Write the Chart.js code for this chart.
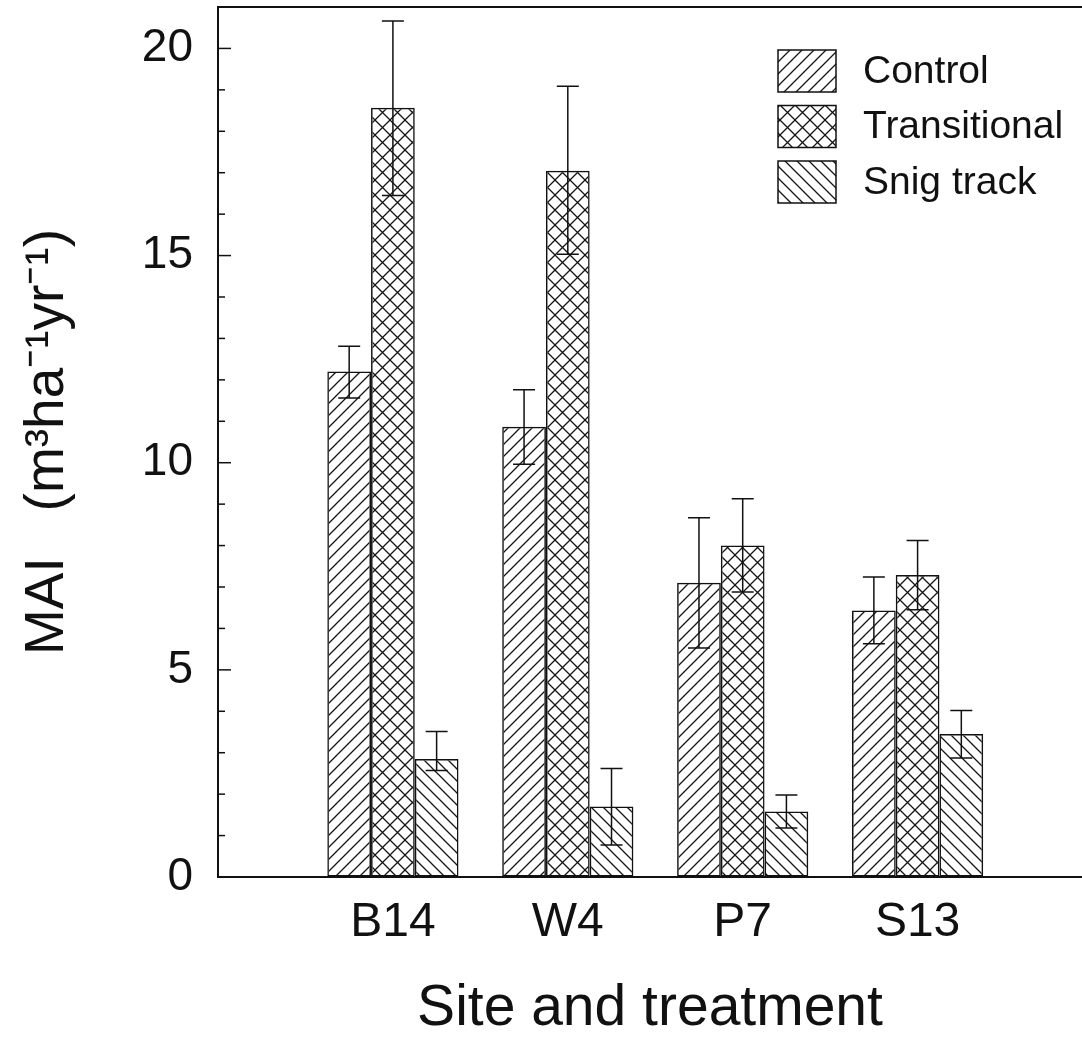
<!DOCTYPE html>
<html lang="en">
<head>
  <meta charset="UTF-8" />
  <title>MAI by site and treatment</title>
  <style>
    html, body {
      margin: 0;
      padding: 0;
      background: #fff;
    }
    canvas {
      display: block;
    }
  </style>
</head>
<body>
  <canvas id="grafico" width="1082" height="1038"></canvas>

  <script src="https://cdn.jsdelivr.net/npm/chart.js"></script>
  <script>
    // datos
    const sites = ['B14', 'W4', 'P7', 'S13'];
    const seriesNames = ['Control', 'Transitional', 'Snig track'];

    const control = [12.2, 10.87, 7.1, 6.43];
    const controlUp = [0.61, 0.89, 1.57, 0.81];
    const controlDown = [0.64, 0.91, 1.57, 0.8];

    const transitional = [18.57, 17.05, 8.0, 7.29];
    const transitionalUp = [2.09, 2.04, 1.13, 0.83];
    const transitionalDown = [2.12, 2.02, 1.12, 0.84];

    const snig = [2.85, 1.7, 1.58, 3.45];
    const snigUp = [0.66, 0.92, 0.4, 0.57];
    const snigDown = [0.28, 0.93, 0.4, 0.58];

    const yTicksMajor = [0, 5, 10, 15, 20];

    const canvas = document.getElementById('grafico');
    const ctx = canvas.getContext('2d');

    function hatch(kind, size) {
      const c = document.createElement('canvas');
      c.width = size;
      c.height = size;
      const g = c.getContext('2d');
      g.strokeStyle = '#151515';
      g.lineWidth = 1.3;
      g.beginPath();
      if (kind === '/' || kind === 'x') {
        g.moveTo(-1, size + 1); g.lineTo(size + 1, -1);
        g.moveTo(-2, 2); g.lineTo(2, -2);
        g.moveTo(size - 2, size + 2); g.lineTo(size + 2, size - 2);
      }
      if (kind === '\\' || kind === 'x') {
        g.moveTo(-1, -1); g.lineTo(size + 1, size + 1);
        g.moveTo(size - 2, -2); g.lineTo(size + 2, 2);
        g.moveTo(-2, size - 2); g.lineTo(2, size + 2);
      }
      g.stroke();
      return ctx.createPattern(c, 'repeat');
    }

    const patterns = [hatch('/', 12), hatch('x', 15), hatch('\\', 12)];
    const values = [control, transitional, snig];
    const ups = [controlUp, transitionalUp, snigUp];
    const downs = [controlDown, transitionalDown, snigDown];

    const errorBars = {
      id: 'errorBars',
      afterDatasetsDraw(chart) {
        const c = chart.ctx;
        const y = chart.scales.y;
        c.save();
        c.strokeStyle = '#111';
        c.lineWidth = 1.5;
        chart.data.datasets.forEach((ds, di) => {
          chart.getDatasetMeta(di).data.forEach((bar, i) => {
            const v = ds.data[i].y;
            const top = y.getPixelForValue(v + ds.errUp[i]);
            const bot = y.getPixelForValue(v - ds.errDown[i]);
            c.beginPath();
            c.moveTo(bar.x, top); c.lineTo(bar.x, bot);
            c.moveTo(bar.x - 11, top); c.lineTo(bar.x + 11, top);
            c.moveTo(bar.x - 11, bot); c.lineTo(bar.x + 11, bot);
            c.stroke();
          });
        });
        c.restore();
      }
    };

    const frame = {
      id: 'frame',
      afterDraw(chart) {
        const c = chart.ctx;
        const a = chart.chartArea;
        const y = chart.scales.y;
        c.save();
        c.strokeStyle = '#111';
        c.lineWidth = 2;
        c.beginPath();
        c.moveTo(a.left - 1, a.top);
        c.lineTo(a.right, a.top);
        c.stroke();

        // marcas hacia adentro, mayores cada 5
        c.lineWidth = 1.5;
        y.ticks.forEach(t => {
          if (t.value <= y.min || t.value >= y.max) return;
          const py = y.getPixelForValue(t.value);
          const len = yTicksMajor.includes(t.value) ? 13 : 7;
          c.beginPath();
          c.moveTo(a.left, py);
          c.lineTo(a.left + len, py);
          c.stroke();
        });

        // leyenda
        const bx = 778, by = 50, bw = 58, bh = 42, step = 55.5;
        c.font = "39px 'Liberation Sans', Arial, sans-serif";
        c.textBaseline = 'middle';
        c.textAlign = 'left';
        chart.data.datasets.forEach((ds, i) => {
          const top = by + i * step;
          c.fillStyle = '#fff';
          c.fillRect(bx, top, bw, bh);
          c.fillStyle = ds.backgroundColor;
          c.fillRect(bx, top, bw, bh);
          c.lineWidth = 1.5;
          c.strokeStyle = '#111';
          c.strokeRect(bx, top, bw, bh);
          c.fillStyle = '#111';
          c.fillText(ds.label, 863, top + bh / 2 + 1);
        });
        c.restore();
      }
    };

    Chart.defaults.font.family = "'Liberation Sans', Arial, sans-serif";
    Chart.defaults.color = '#111';

    const chart = new Chart(ctx, {
      type: 'bar',
      data: {
        datasets: seriesNames.map((name, k) => ({
          label: name,
          data: sites.map((s, i) => ({ x: i + 1, y: values[k][i] })),
          errUp: ups[k],
          errDown: downs[k],
          backgroundColor: patterns[k],
          borderColor: '#111',
          borderWidth: 1.5,
          borderSkipped: false,
          categoryPercentage: 0.75,
          barPercentage: 1.0
        }))
      },
      options: {
        responsive: false,
        animation: false,
        layout: {
          padding: { top: 7, right: 0, left: 0, bottom: 0 }
        },
        plugins: {
          legend: { display: false },
          tooltip: { enabled: false }
        },
        scales: {
          x: {
            type: 'linear',
            min: 0,
            max: 4.94,
            offset: false,
            grid: { drawOnChartArea: false, drawTicks: false },
            border: { display: true, color: '#111', width: 2 },
            afterBuildTicks(scale) {
              scale.ticks = sites.map((s, i) => ({ value: i + 1 }));
            },
            ticks: {
              autoSkip: false,
              maxRotation: 0,
              padding: 17,
              font: { size: 48 },
              callback: v => sites[v - 1] || ''
            },
            title: {
              display: true,
              text: 'Site and treatment',
              font: { size: 57, lineHeight: 1 },
              padding: { top: 0, bottom: 0 }
            },
            afterFit(scale) {
              scale.height = 161;
              scale.paddingLeft = 0;
              scale.paddingRight = 0;
            }
          },
          y: {
            min: 0,
            max: 21,
            grid: { drawOnChartArea: false, drawTicks: false },
            border: { display: true, color: '#111', width: 2 },
            ticks: {
              stepSize: 1,
              autoSkip: false,
              padding: 25,
              font: { size: 46 },
              callback: v => yTicksMajor.includes(v) ? v : ''
            },
            title: {
              display: true,
              text: 'MAI   (m³ha⁻¹yr⁻¹)',
              font: { size: 55, lineHeight: 1 },
              padding: { top: 20, bottom: 0 }
            },
            afterFit(scale) {
              scale.width = 218;
              scale.paddingTop = 0;
              scale.paddingBottom = 0;
            }
          }
        }
      },
      plugins: [errorBars, frame]
    });
  </script>
</body>
</html>
